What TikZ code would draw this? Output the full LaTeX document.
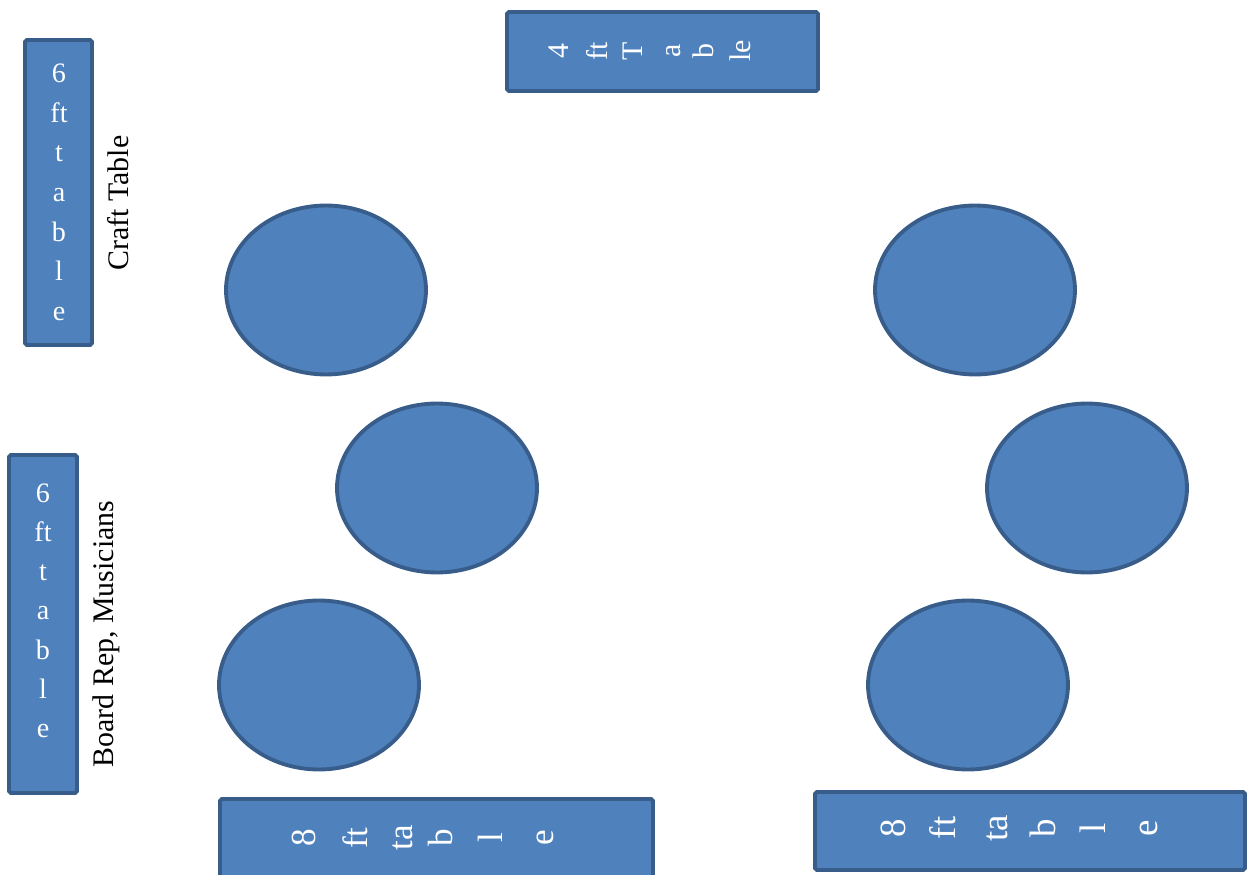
\documentclass[tikz,border=0pt]{standalone}
\usepackage{fontspec}
\setmainfont{Liberation Serif}
\usetikzlibrary{shapes.geometric}
\begin{document}
\begin{tikzpicture}[x=0.02cm,y=-0.02cm]
  \definecolor{tablefill}{HTML}{4F81BD}
  \definecolor{tableedge}{HTML}{385D8A}
  \tikzset{
    tablebox/.style={draw=tableedge,line width=2.2pt,fill=tablefill,rounded corners=1pt,inner sep=0pt},
    roundtable/.style={ellipse,draw=tableedge,line width=2.2pt,fill=tablefill,minimum width=4cm,minimum height=3.38cm,inner sep=0pt},
    tag/.style={white,anchor=base,inner sep=0pt},
    sidetag/.style={white,anchor=base,rotate=90,inner sep=0pt},
    sidelabel/.style={black,anchor=base,rotate=90,inner sep=0pt,font=\fontsize{17}{20}\selectfont}
  }
  \useasboundingbox (0,0) rectangle (1248,875);
  % side tables
  \node[tablebox,minimum width=1.34cm,minimum height=6.1cm] (craft) at (58.5,192.5) {};
  \node[tablebox,minimum width=1.36cm,minimum height=6.76cm] (board) at (43,624) {};
  \foreach \ch [count=\i from 0] in {6,ft,t,a,b,l,e} {
    \node[tag,font=\fontsize{16}{19}\selectfont] (craft-\i) at (59,83+39.5*\i) {\ch};
    \node[tag,font=\fontsize{16}{19}\selectfont] (board-\i) at (43,502+39.3*\i) {\ch};
  }
  \node[sidelabel] (craftlabel) at (128,203) {Craft Table};
  \node[sidelabel] (boardlabel) at (113,634) {Board Rep, Musicians};
  % top table
  \node[tablebox,minimum width=6.22cm,minimum height=1.58cm] (top) at (662.5,51.5) {};
  \foreach \ch/\bx in {4/568,ft/607,T/642,a/680,b/713,le/750}
    \node[sidetag,font=\fontsize{17}{20}\selectfont] at (\bx,51) {\ch};
  % bottom tables
  \node[tablebox,minimum width=8.66cm,minimum height=1.8cm] (bottomleft) at (436.5,844) {};
  \node[tablebox,minimum width=8.6cm,minimum height=1.56cm] (bottomright) at (1030,831) {};
  \foreach \ch/\bx in {8/315,ft/367,ta/412,b/452,l/502,e/553}
    \node[sidetag,font=\fontsize{20}{24}\selectfont] at (\bx,838) {\ch};
  \foreach \ch/\bx in {8/905,ft/955,ta/1007,b/1055,l/1105,e/1157}
    \node[sidetag,font=\fontsize{21}{25}\selectfont] at (\bx,828) {\ch};
  % round tables
  \node[roundtable] (roundA) at (326,290) {};
  \node[roundtable] (roundB) at (437,488) {};
  \node[roundtable] (roundC) at (319,685) {};
  \node[roundtable] (roundD) at (975,290) {};
  \node[roundtable] (roundE) at (1087,488) {};
  \node[roundtable] (roundF) at (968,685) {};
\end{tikzpicture}
\end{document}
